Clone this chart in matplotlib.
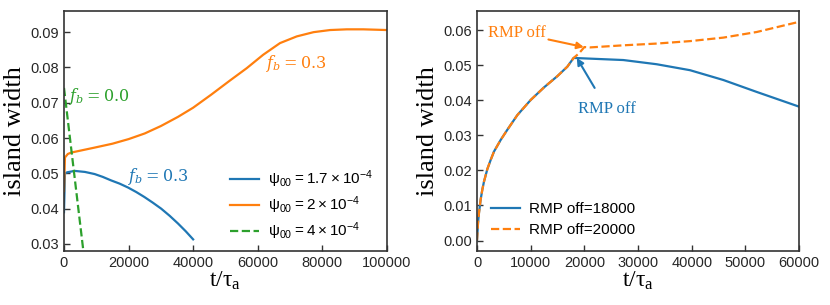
import matplotlib
matplotlib.use("Agg")
import matplotlib.pyplot as plt

plt.rcParams['font.family'] = ['Liberation Sans', 'DejaVu Sans']
plt.rcParams['mathtext.fontset'] = 'custom'
plt.rcParams['mathtext.rm'] = 'Liberation Sans'

# ---- left panel data ----
t_blue = [0, 300, 1000, 3300, 6500, 9500, 12000, 14600, 17200, 19800, 22400, 24900, 27500, 30100, 32700, 35300, 37700, 40000]
w_blue = [0.039, 0.0500, 0.0503, 0.0507, 0.0504, 0.0498, 0.0490, 0.0480, 0.0471, 0.0460, 0.0447, 0.0433, 0.0417, 0.0400, 0.0380, 0.0358, 0.0336, 0.0313]
t_orange = [0, 300, 1200, 2300, 9500, 15000, 20000, 25000, 30000, 35300, 40000, 45600, 51400,
            56600, 61700, 66900, 72100, 77300, 82400, 87600, 92700, 100000]
w_orange = [0.045, 0.0545, 0.0555, 0.0559, 0.0573, 0.0584, 0.0597, 0.0613, 0.0634, 0.0660, 0.0686, 0.0723, 0.0763,
            0.0798, 0.0836, 0.0869, 0.0888, 0.0900, 0.0906, 0.0908, 0.0908, 0.0906]
t_green = [0, 6000]
w_green = [0.0742, 0.0280]

labels_left = [r'$\mathregular{\psi_{00} = 1.7\times10^{-4}}$',
               r'$\mathregular{\psi_{00} = 2\times10^{-4}}$',
               r'$\mathregular{\psi_{00} = 4\times10^{-4}}$']

# ---- right panel data ----
t_rise = [0, 190, 370, 680, 990, 1300, 1930, 2550, 3170, 4410, 5650, 7520, 10000, 12490, 14970, 16830, 18000]
w_rise = [0.0, 0.0050, 0.0079, 0.0117, 0.0145, 0.0168, 0.0204, 0.0230, 0.0254, 0.0287, 0.0316, 0.0358,
          0.0401, 0.0437, 0.0469, 0.0496, 0.0521]
t_off18 = [18000, 21050, 27260, 33480, 39690, 45900, 52110, 60000]
w_off18 = [0.0521, 0.0519, 0.0515, 0.0503, 0.0486, 0.0458, 0.0424, 0.0382]
t_off20 = [18000, 19000, 20000, 21050, 27260, 33480, 39690, 45900, 52110, 60000]
w_off20 = [0.0521, 0.0534, 0.0552, 0.0551, 0.0557, 0.0562, 0.0569, 0.0579, 0.0595, 0.0624]
labels_right = ['RMP off=18000', 'RMP off=20000']

blue, orange, green = '#1f77b4', '#ff7f0e', '#2ca02c'
spine_c = '#333333'

fig = plt.figure(figsize=(8.3, 3.05), dpi=100)
ax1 = fig.add_axes([0.0771, 0.177, 0.389, 0.787])
ax2 = fig.add_axes([0.5747, 0.177, 0.388, 0.787])

def style(ax):
    for s in ax.spines.values():
        s.set_color(spine_c)
        s.set_linewidth(1.2)
    ax.tick_params(direction='in', length=4, width=1, colors=spine_c,
                   labelcolor='#262626', labelsize=10.5)
    ax.set_ylabel('island width', family='Liberation Serif', fontsize=19, labelpad=3)
    ax.set_xlabel(r'$\mathregular{t/\tau_a}$', family='Liberation Serif', fontsize=17, labelpad=0)

# left
ax1.plot(t_blue, w_blue, color=blue, lw=1.6, label=labels_left[0])
ax1.plot(t_orange, w_orange, color=orange, lw=1.6, label=labels_left[1])
ax1.plot(t_green, w_green, color=green, lw=1.6, ls='--', label=labels_left[2])
ax1.set_xlim(0, 100000)
ax1.set_ylim(0.028, 0.096)
ax1.set_xticks([0, 20000, 40000, 60000, 80000, 100000])
ax1.set_yticks([0.03, 0.04, 0.05, 0.06, 0.07, 0.08, 0.09])
style(ax1)
ax1.text(1700, 0.0718, r'$f_b = 0.0$', color=green, fontsize=11.5, va='center', math_fontfamily='dejavuserif')
ax1.text(62500, 0.0812, r'$f_b = 0.3$', color=orange, fontsize=11.5, va='center', math_fontfamily='dejavuserif')
ax1.text(19700, 0.0491, r'$f_b = 0.3$', color=blue, fontsize=11.5, va='center', math_fontfamily='dejavuserif')
ax1.legend(loc='lower right', bbox_to_anchor=(1.0, -0.02), frameon=False, fontsize=11,
           handlelength=1.9, handletextpad=0.6, labelspacing=0.28)

# right
ax2.plot(t_rise + t_off18[1:], w_rise + w_off18[1:], color=blue, lw=1.6, label=labels_right[0])
ax2.plot(t_rise + t_off20[1:], w_rise + w_off20[1:], color=orange, lw=1.6, ls='--', label=labels_right[1])
ax2.set_xlim(0, 60000)
ax2.set_ylim(-0.003, 0.0655)
ax2.set_xticks([0, 10000, 20000, 30000, 40000, 50000, 60000])
ax2.set_yticks([0.0, 0.01, 0.02, 0.03, 0.04, 0.05, 0.06])
style(ax2)
ax2.annotate('RMP off', xy=(19900, 0.0552), xytext=(7400, 0.0593), color=orange,
             family='Liberation Serif', fontsize=12, ha='center', va='center',
             arrowprops=dict(arrowstyle='-|>', color=orange, lw=1.5, shrinkA=0, shrinkB=0,
                             mutation_scale=10))
ax2.annotate('RMP off', xy=(18600, 0.0521), xytext=(24300, 0.0374), color=blue,
             family='Liberation Serif', fontsize=12, ha='center', va='center',
             arrowprops=dict(arrowstyle='-|>', color=blue, lw=1.5, shrinkA=9, shrinkB=0,
                             mutation_scale=10))
ax2.legend(loc='lower left', bbox_to_anchor=(0.0, 0.0), frameon=False, fontsize=11,
           handlelength=1.9, handletextpad=0.6, labelspacing=0.45)

fig.savefig('out.png', dpi=100)
